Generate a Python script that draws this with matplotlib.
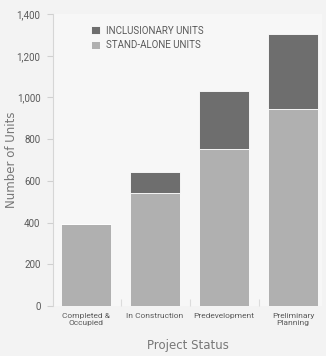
import matplotlib.pyplot as plt
import numpy as np

categories = ["Completed &\nOccupied", "In Construction", "Predevelopment", "Preliminary\nPlanning"]
stand_alone = [395, 543, 754, 943]
inclusionary = [0, 101, 277, 359]
yticks = [0, 200, 400, 600, 800, 1000, 1200, 1400]

narrow = ["Roboto", "DejaVu Sans"]
txt = "#5a5a5a"
bg = "#f3f3f3"

fig = plt.figure(figsize=(3.26, 3.56), dpi=100, facecolor=bg)
ax = fig.add_axes([53/326, 1 - 306/356, 269/326, 292/356], facecolor="#f7f7f7")

x = np.arange(len(categories))
ax.bar(x, stand_alone, width=0.72, color="#b0b0b0", edgecolor="white", linewidth=0.6,
       label="STAND-ALONE UNITS", zorder=2)
ax.bar(x, inclusionary, width=0.72, bottom=stand_alone, color="#6e6e6e", edgecolor="white",
       linewidth=0.6, label="INCLUSIONARY UNITS", zorder=2)

ax.set_xlim(-0.48, 3.42)
ax.set_ylim(0, 1400)
ax.set_yticks(yticks)
ax.set_yticklabels([f"{v:,}" for v in yticks], family=narrow, fontsize=7, color=txt)
ax.set_xticks(x)
ax.set_xticklabels(categories, family=narrow, fontsize=6, color=txt, linespacing=1.3)
ax.tick_params(axis="x", length=0, pad=5)
ax.tick_params(axis="y", length=4, color="#d0d0d0", width=0.8, pad=5)
ax.set_xticks([0.5, 1.5, 2.5], minor=True)
ax.tick_params(axis="x", which="minor", direction="in", length=5, color="#dcdcdc", width=0.8)

for s in ["top", "right", "bottom"]:
    ax.spines[s].set_visible(False)
ax.spines["left"].set_color("#d6d6d6")
ax.spines["left"].set_linewidth(0.8)

ax.set_ylabel("Number of Units", fontsize=8.5, color="#777777")
ax.yaxis.set_label_coords(-0.13, 0.5)
ax.set_xlabel("Project Status", fontsize=8.5, color="#777777", labelpad=9)

h, l = ax.get_legend_handles_labels()
ax.legend(h[::-1], l[::-1], loc="upper left", bbox_to_anchor=(0.11, 0.99), frameon=False,
          prop={"family": narrow, "size": 7}, labelcolor=txt, handlelength=0.9,
          handleheight=0.9, handletextpad=0.6, labelspacing=0.45)

fig.savefig("out.png", dpi=100, facecolor=bg)
